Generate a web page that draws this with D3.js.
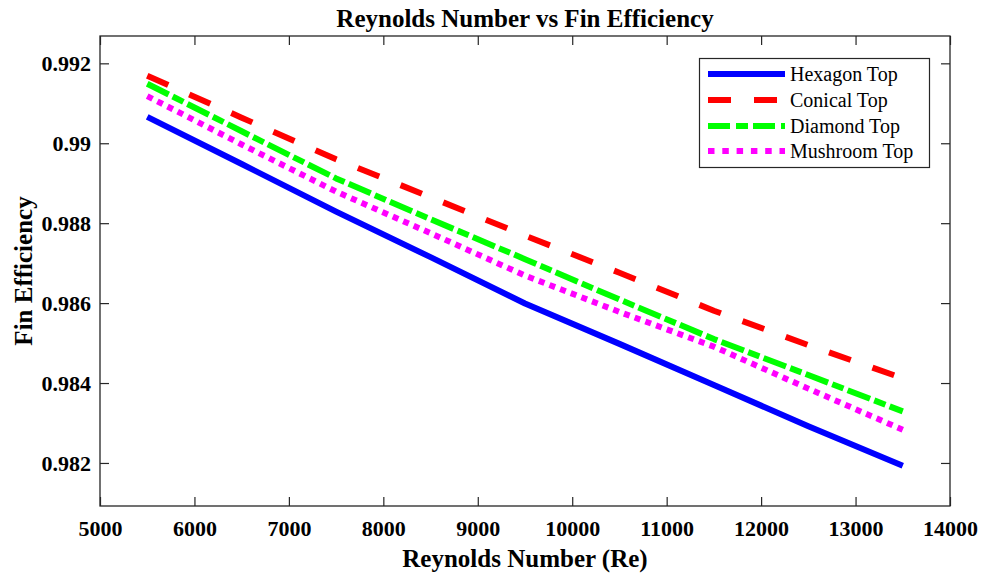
<!DOCTYPE html>
<html>
<head>
<meta charset="utf-8">
<script src="https://cdn.jsdelivr.net/npm/d3@7"></script>
<style>
  html, body { margin: 0; padding: 0; background: #fff; }
  svg { display: block; font-family: "Liberation Serif", "Times New Roman", serif; }
</style>
</head>
<body>
<svg id="chart" width="982" height="575"></svg>
<script>
// Reynolds number sample points
const reynolds = [5500, 6500, 7500, 8500, 9500, 10500, 11500, 12500, 13500];

// Fin efficiency for each fin top shape
const hexagonTop  = [0.99066, 0.98948, 0.98829, 0.98715, 0.98599, 0.98498, 0.98395, 0.98292, 0.98193];
const conicalTop  = [0.99169, 0.99064, 0.98960, 0.98865, 0.98769, 0.98676, 0.98581, 0.98495, 0.98412];
const diamondTop  = [0.99149, 0.99030, 0.98912, 0.98810, 0.98710, 0.98609, 0.98510, 0.98420, 0.98329];
const mushroomTop = [0.99118, 0.98997, 0.98879, 0.98775, 0.98669, 0.98578, 0.98491, 0.98386, 0.98283];

const seriesNames = ["Hexagon Top", "Conical Top", "Diamond Top", "Mushroom Top"];

// Axis ticks
const xTicks = [5000, 6000, 7000, 8000, 9000, 10000, 11000, 12000, 13000, 14000];
const yTicks = [0.982, 0.984, 0.986, 0.988, 0.99, 0.992];
const yTickLabels = ["0.982", "0.984", "0.986", "0.988", "0.99", "0.992"];

const series = [
  { name: seriesNames[0], values: hexagonTop,  color: "#0000ff", dash: null,            legendDash: null },
  { name: seriesNames[1], values: conicalTop,  color: "#ff0000", dash: "23,23",         legendDash: "23,23" },
  { name: seriesNames[2], values: diamondTop,  color: "#00ff00", dash: "24,4.5,12,4.5", legendDash: "22,6,12,5" },
  { name: seriesNames[3], values: mushroomTop, color: "#ff00ff", dash: "6,5.4",         legendDash: "6.5,7.8" }
];

const svg = d3.select("#chart");
const plot = { left: 100, right: 950, top: 36, bottom: 506 };
const axisColor = "#262626";
const serif = "Liberation Serif, Times New Roman, serif";

const x = d3.scaleLinear().domain([5000, 14000]).range([plot.left, plot.right]);
const y = d3.scaleLinear().domain([0.980923, 0.992684]).range([plot.bottom, plot.top]);

// Data lines
const line = d3.line()
  .x((d, i) => x(reynolds[i]))
  .y(d => y(d));

const lines = svg.append("g");
series.forEach(s => {
  lines.append("path")
    .datum(s.values)
    .attr("d", line)
    .attr("fill", "none")
    .attr("stroke", s.color)
    .attr("stroke-width", 6)
    .attr("stroke-linejoin", "round")
    .attr("stroke-dasharray", s.dash);
});

// Axes with inward ticks on all four sides
const tickLen = 9;
const axisFont = g => g.selectAll("text")
  .attr("font-family", serif)
  .attr("font-weight", "bold")
  .attr("font-size", 22)
  .attr("fill", "#000");

const styleAxis = g => {
  g.select(".domain").remove();
  g.selectAll(".tick line").attr("stroke", axisColor).attr("stroke-width", 1.2);
};

svg.append("g")
  .attr("transform", `translate(0,${plot.bottom})`)
  .call(d3.axisBottom(x).tickValues(xTicks).tickFormat(d3.format("d"))
    .tickSizeInner(-tickLen).tickSizeOuter(0).tickPadding(14))
  .call(styleAxis).call(axisFont);

svg.append("g")
  .attr("transform", `translate(0,${plot.top})`)
  .call(d3.axisTop(x).tickValues(xTicks).tickFormat("")
    .tickSizeInner(-tickLen).tickSizeOuter(0))
  .call(styleAxis);

svg.append("g")
  .attr("transform", `translate(${plot.left},0)`)
  .call(d3.axisLeft(y).tickValues(yTicks).tickFormat((d, i) => yTickLabels[i])
    .tickSizeInner(-tickLen).tickSizeOuter(0).tickPadding(9))
  .call(styleAxis).call(axisFont);

svg.append("g")
  .attr("transform", `translate(${plot.right},0)`)
  .call(d3.axisRight(y).tickValues(yTicks).tickFormat("")
    .tickSizeInner(-tickLen).tickSizeOuter(0))
  .call(styleAxis);

// Axes box
svg.append("rect")
  .attr("x", plot.left).attr("y", plot.top)
  .attr("width", plot.right - plot.left).attr("height", plot.bottom - plot.top)
  .attr("fill", "none").attr("stroke", axisColor).attr("stroke-width", 1.3);

// Title and axis labels
svg.append("text")
  .attr("x", (plot.left + plot.right) / 2).attr("y", 27)
  .attr("text-anchor", "middle")
  .attr("font-family", serif)
  .attr("font-weight", "bold").attr("font-size", 25)
  .text("Reynolds Number vs Fin Efficiency");

svg.append("text")
  .attr("x", (plot.left + plot.right) / 2).attr("y", 567)
  .attr("text-anchor", "middle")
  .attr("font-family", serif)
  .attr("font-weight", "bold").attr("font-size", 25)
  .text("Reynolds Number (Re)");

svg.append("text")
  .attr("transform", `translate(32,${(plot.top + plot.bottom) / 2}) rotate(-90)`)
  .attr("text-anchor", "middle")
  .attr("font-family", serif)
  .attr("font-weight", "bold").attr("font-size", 25)
  .text("Fin Efficiency");

// Legend
const legend = svg.append("g");
legend.append("rect")
  .attr("x", 699.5).attr("y", 58.5)
  .attr("width", 230).attr("height", 109)
  .attr("fill", "#fff").attr("stroke", axisColor).attr("stroke-width", 1.2);

const rowY = [74, 100, 126, 151];
series.forEach((s, i) => {
  legend.append("line")
    .attr("x1", 708).attr("x2", 785)
    .attr("y1", rowY[i]).attr("y2", rowY[i])
    .attr("stroke", s.color).attr("stroke-width", 6)
    .attr("stroke-dasharray", s.legendDash);
  legend.append("text")
    .attr("x", 790).attr("y", rowY[i])
    .attr("dy", "0.33em")
    .attr("font-family", serif)
    .attr("font-size", 20)
    .text(s.name);
});
</script>
</body>
</html>
